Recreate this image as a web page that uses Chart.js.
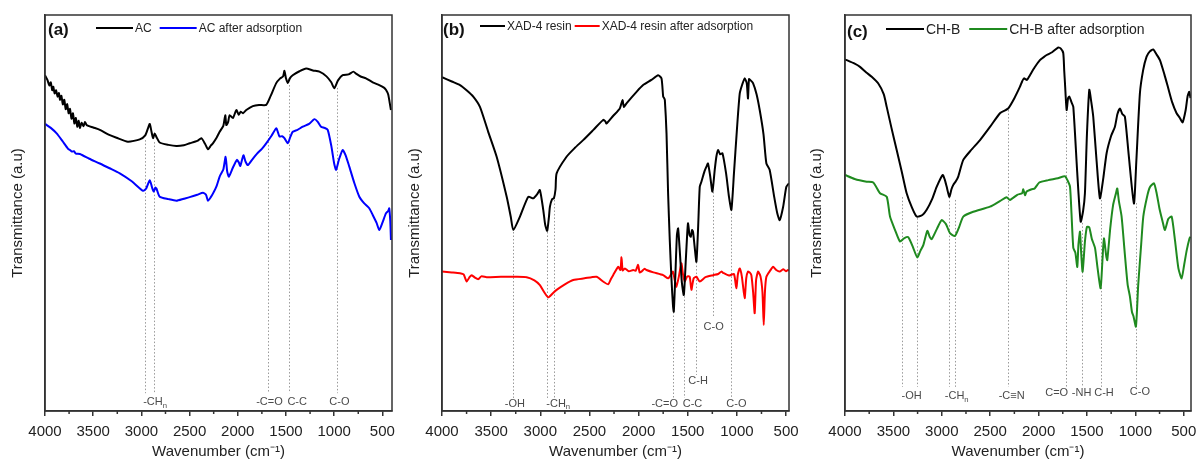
<!DOCTYPE html>
<html><head><meta charset="utf-8">
<script src="https://cdn.jsdelivr.net/npm/chart.js@4.4.1/dist/chart.umd.min.js"></script>
<style>
html,body{margin:0;padding:0;background:#fff;}
#wrap{position:relative;width:1199px;height:463px;overflow:hidden;}
canvas{position:absolute;top:0;}
</style></head><body>
<div id="wrap">
<canvas id="ca" width="400" height="463" style="left:0px"></canvas>
<canvas id="cb" width="400" height="463" style="left:400px"></canvas>
<canvas id="cc" width="399" height="463" style="left:800px"></canvas>
</div>
<script>
// ---------- axis ticks ----------
const tickValues = [4000,3500,3000,2500,2000,1500,1000,500];
const minorTickValues = [3750,3250,2750,2250,1750,1250,750];

// ---------- panel (a): AC ----------
const acWave = [4000,3975,3955,3940,3925,3914,3900,3885,3870,3855,3845,3830,3815,3800,3785,3770,3755,3741,3725,3710,3695,3680,3665,3650,3638,3620,3600,3585,3568,3500,3431,3340,3258,3140,3017,2960,2930,2913,2895,2879,2862,2844,2810,2720,2637,2560,2499,2420,2378,2340,2309,2280,2258,2220,2188,2150,2130,2119,2100,2085,2050,2015,1990,1970,1947,1912,1844,1780,1705,1660,1601,1560,1530,1516,1500,1481,1460,1430,1360,1291,1220,1153,1080,1030,998,960,912,850,800,773,720,670,600,532,480,463,440,425,411];
const acT    = [84.8,83.6,82.2,83.0,81.0,81.9,80.2,81.0,79.4,80.3,78.6,79.6,77.4,78.6,76.2,77.5,75.2,76.3,73.8,75.2,72.6,74.0,71.8,73.3,71.5,72.8,71.9,73.0,72.2,71.6,71.0,69.8,69.0,68.0,68.6,69.6,71.5,72.5,70.5,68.9,70.1,69.2,67.8,67.2,66.9,67.1,67.6,68.2,68.9,67.5,66.1,67.0,67.6,69.0,70.5,72.0,74.7,72.2,73.0,74.7,74.0,76.0,74.8,75.6,75.2,76.0,77.0,77.3,77.3,79.5,82.8,84.0,84.5,85.9,84.0,82.8,84.0,84.8,85.8,86.5,86.0,85.7,84.5,83.0,81.5,83.5,84.8,85.0,85.7,85.2,84.4,84.0,83.0,82.3,81.6,81.1,80.0,78.0,76.0];
const acAdsWave = [4000,3940,3879,3820,3760,3741,3720,3700,3680,3638,3540,3431,3330,3224,3100,2982,2950,2913,2890,2872,2855,2844,2810,2720,2637,2560,2499,2420,2361,2330,2309,2280,2258,2220,2188,2150,2126,2110,2092,2050,2009,1990,1974,1955,1940,1920,1895,1850,1800,1750,1705,1650,1601,1585,1567,1540,1516,1481,1455,1430,1380,1326,1260,1205,1170,1136,1100,1067,1030,1000,980,950,912,880,843,790,739,690,636,600,560,532,500,463,440,429,418,411];
const acAdsT    = [72.5,71.5,70.1,68.2,66.2,65.9,65.5,65.6,65.0,64.9,63.7,62.5,61.3,60.0,58.0,55.6,56.2,58.3,56.5,55.4,56.4,56.2,54.1,53.5,53.1,53.6,54.0,54.6,55.1,54.6,53.1,54.0,54.9,56.8,59.2,61.0,64.2,60.5,59.2,61.5,63.4,62.8,61.9,63.5,64.6,63.0,62.1,63.5,65.0,66.2,67.6,69.5,71.4,70.5,69.3,69.4,68.9,67.6,69.2,70.5,71.0,71.8,72.5,73.7,73.0,71.8,71.5,71.0,67.0,62.5,60.9,63.5,65.9,64.5,61.7,57.5,54.1,52.5,51.2,49.5,47.5,45.7,47.5,49.9,50.5,51.2,48.0,43.2];

// ---------- panel (b): XAD-4 resin ----------
const xadWave = [4000,3900,3817,3750,3682,3614,3530,3444,3342,3300,3275,3207,3122,3071,3030,3004,2970,2950,2930,2912,2902,2880,2862,2845,2834,2733,2650,2564,2460,2361,2340,2326,2260,2191,2164,2150,2123,2021,1954,1870,1801,1767,1750,1740,1733,1716,1700,1683,1665,1650,1642,1625,1610,1598,1580,1560,1540,1520,1505,1497,1482,1469,1456,1446,1430,1412,1395,1378,1361,1330,1310,1294,1270,1249,1225,1209,1192,1170,1147,1110,1080,1056,1030,1000,971,945,921,900,887,877,860,836,800,768,730,700,667,620,590,565,530,497,470];
const xadT    = [84.3,83.2,82.3,81.0,79.4,76.8,70.5,64.2,54.1,49.0,45.7,49.1,54.1,53.7,54.8,55.8,50.8,47.0,45.5,49.0,51.6,53.5,53.7,56.0,60.0,64.2,66.4,68.4,71.0,73.5,73.2,72.6,74.5,76.4,78.5,76.8,77.7,80.6,82.3,83.6,84.8,84.0,79.4,79.0,78.5,70.1,55.0,43.2,33.0,26.5,25.1,35.0,44.5,46.1,40.0,32.5,29.3,38.0,45.0,47.4,44.5,44.0,45.7,45.2,41.5,37.7,46.0,56.6,57.9,60.5,61.7,62.5,59.0,55.4,61.0,64.2,65.9,64.8,65.1,60.0,54.0,50.8,60.0,71.0,80.2,82.5,84.0,82.8,78.9,83.8,83.5,82.8,80.0,76.0,70.0,62.5,60.9,54.0,50.0,48.2,51.5,56.6,57.5];
const xadAdsWave = [4000,3900,3817,3780,3749,3720,3698,3660,3631,3600,3546,3400,3250,3139,3060,3004,2960,2919,2870,2834,2750,2665,2550,2428,2361,2310,2280,2259,2208,2185,2174,2162,2140,2100,2055,2030,2005,1990,1971,1940,1920,1850,1750,1699,1670,1651,1632,1616,1590,1565,1548,1531,1505,1480,1463,1440,1412,1378,1320,1243,1190,1158,1141,1080,1030,1006,990,971,950,921,905,887,870,853,835,819,805,785,760,740,727,715,700,660,632,600,565,530,500,480,470];
const xadAdsT    = [35.2,35.0,34.8,34.5,32.7,33.8,34.3,33.6,33.3,34.0,33.8,33.9,33.9,33.8,33.0,31.8,30.0,28.7,29.8,30.6,32.0,33.1,33.5,33.9,32.7,32.0,33.4,34.3,36.4,35.6,38.8,35.5,36.0,35.3,35.6,35.4,36.9,35.0,35.2,35.9,35.6,35.0,34.3,33.5,34.5,35.2,33.0,31.4,34.0,37.3,34.5,32.7,34.0,33.9,30.6,33.5,33.9,32.7,33.8,34.3,34.6,35.2,34.9,34.2,34.6,31.0,34.5,36.0,34.0,28.5,33.5,35.2,35.0,34.3,30.0,24.7,33.0,35.2,34.0,30.0,21.7,30.0,33.9,35.5,36.4,35.6,35.2,35.8,35.3,35.6,35.4];

// ---------- panel (c): CH-B ----------
const chbWave = [4000,3900,3845,3780,3724,3656,3600,3569,3520,3466,3414,3363,3310,3259,3200,3156,3100,3053,2991,2970,2949,2922,2900,2881,2855,2830,2778,2700,2605,2500,2399,2340,2313,2250,2192,2170,2151,2120,2089,2040,1986,1950,1916,1860,1796,1770,1745,1735,1727,1710,1695,1682,1660,1641,1600,1565,1540,1521,1500,1476,1455,1435,1400,1366,1330,1297,1250,1211,1185,1159,1135,1108,1070,1015,990,953,920,884,850,816,780,746,700,660,620,574,540,512,480,460,443,430];
const chbT    = [88.8,87.7,86.9,85.5,84.4,82.7,80.0,76.8,71.5,65.9,60.5,55.0,51.5,49.1,49.5,50.8,53.5,56.6,59.6,58.5,56.6,54.1,56.0,57.1,58.0,59.2,63.4,65.8,68.4,71.8,75.2,76.0,76.4,79.0,81.9,83.2,84.0,83.6,84.8,86.8,88.6,89.3,89.9,90.6,91.8,91.5,90.4,86.0,82.7,76.0,79.0,79.4,78.0,76.8,60.0,47.8,50.5,55.0,70.0,81.1,78.0,74.3,63.0,53.7,59.0,65.1,69.5,71.8,75.0,76.4,75.0,74.3,65.0,52.4,63.0,80.2,86.0,89.5,90.8,91.3,90.0,88.6,85.0,81.5,78.0,75.2,74.0,72.9,76.0,79.5,80.6,79.0];
const chbAdsWave = [4000,3900,3776,3708,3638,3569,3535,3483,3432,3390,3346,3300,3253,3220,3191,3149,3125,3104,3050,3001,2957,2915,2864,2820,2778,2675,2502,2400,2330,2296,2220,2170,2158,2140,2123,2071,2040,1993,1900,1800,1727,1700,1675,1660,1641,1620,1600,1588,1572,1560,1545,1520,1500,1476,1450,1417,1390,1359,1340,1325,1300,1290,1260,1230,1200,1187,1170,1142,1110,1080,1056,1035,1020,994,970,940,918,880,850,808,780,750,720,694,660,625,590,555,522,495,470,440,430];
const chbAdsT    = [59.6,58.6,57.9,57.7,55.0,54.1,49.1,45.7,42.8,43.6,43.9,41.5,38.8,40.5,41.9,45.5,44.0,43.4,46.0,48.2,47.2,44.9,44.2,46.5,49.1,50.3,51.6,53.0,54.0,53.3,54.6,55.0,56.0,54.5,55.4,56.0,56.2,57.7,58.3,58.8,59.3,58.2,56.6,50.0,41.2,40.0,36.4,42.0,45.3,40.0,35.2,43.0,46.5,46.4,43.5,41.2,36.0,31.0,38.0,43.6,39.0,38.1,46.0,52.0,55.0,56.2,53.0,49.1,40.0,32.0,28.9,25.0,24.0,21.3,32.0,42.0,49.1,54.0,56.5,57.5,55.0,51.0,48.0,45.7,48.5,49.1,43.0,36.0,33.5,37.0,40.5,43.6,44.0];

// ---------- band assignments ----------
const bandWaveA  = [2958,2865,1688,1464,974];
const bandTopA   = [68.4,67.9,76.0,82.3,81.6];
const bandTextA  = ['-CH_n','-C=O','C-C','C-O'];
const bandTextWA = [2858,1671,1384,946];

const bandWaveB  = [3275,2936,2859,1649,1540,1412,1243,1056];
const bandTopB   = [45.2,45.2,53.3,25.0,29.0,37.6,55.3,50.8];
const bandTextB  = ['-OH','-CH_n','-C=O','C-C','C-H','C-O','C-O'];
const bandTextWB = [3258,2818,1734,1452,1395,1236,1005];

const bandWaveC  = [3414,3253,2922,2867,2319,1717,1555,1356,994];
const bandTopC   = [54.0,48.7,54.0,53.3,76.0,75.5,47.5,53.3,52.5];
const bandTextC  = ['-OH','-CH_n','-C\u2261N','C=O','-NH','C-H','C-O'];
const bandTextWC = [3311,2846,2278,1813,1555,1324,953];

const FONT = "'Liberation Sans', Arial, Helvetica, sans-serif";
const pts = (w, t) => w.map((x, i) => ({x: x, y: t[i]}));

function drawLabel(ctx, text, cx, cy, size) {
  const parts = text.split('_');
  const main = parts[0], sub = parts[1] || '';
  ctx.font = size + 'px ' + FONT;
  const wm = ctx.measureText(main).width;
  ctx.font = (size * 0.7) + 'px ' + FONT;
  const ws = sub ? ctx.measureText(sub).width : 0;
  const sx = cx - (wm + ws) / 2;
  ctx.textBaseline = 'middle'; ctx.textAlign = 'left';
  ctx.font = size + 'px ' + FONT;
  ctx.fillText(main, sx, cy);
  if (sub) { ctx.font = (size * 0.7) + 'px ' + FONT; ctx.fillText(sub, sx + wm, cy + size * 0.35); }
}

const decor = {
  id: 'decor',
  beforeDatasetsDraw(chart, args, o) {
    const ctx = chart.ctx, x = chart.scales.x, y = chart.scales.y;
    ctx.save();
    ctx.strokeStyle = '#9a9a9a'; ctx.lineWidth = 1; ctx.setLineDash([1.5, 2]);
    o.lines.forEach(l => {
      const px = Math.round(x.getPixelForValue(l.w)) + 0.5;
      ctx.beginPath();
      ctx.moveTo(px, y.getPixelForValue(l.top));
      ctx.lineTo(px, y.getPixelForValue(l.bottom));
      ctx.stroke();
    });
    ctx.restore();
  },
  afterDraw(chart, args, o) {
    const ctx = chart.ctx, a = chart.chartArea, x = chart.scales.x, y = chart.scales.y;
    ctx.save();
    ctx.fillStyle = '#4a4a4a';
    o.labels.forEach(l => drawLabel(ctx, l.text, x.getPixelForValue(l.w), y.getPixelForValue(l.y), 11));
    ctx.strokeStyle = '#333'; ctx.lineWidth = 1.5; ctx.setLineDash([]);
    ctx.strokeRect(a.left, a.top, a.right - a.left, a.bottom - a.top);
    minorTickValues.forEach(v => {
      const px = x.getPixelForValue(v);
      ctx.beginPath(); ctx.moveTo(px, a.bottom); ctx.lineTo(px, a.bottom + 3); ctx.stroke();
    });
    const L = o.legend;
    ctx.fillStyle = '#111';
    ctx.font = 'bold ' + L.tagSize + 'px ' + FONT;
    ctx.textBaseline = 'middle'; ctx.textAlign = 'left';
    ctx.fillText(L.tag, a.left + L.tagX, a.top + L.tagY);
    ctx.font = L.size + 'px ' + FONT;
    let cx = a.left + L.x;
    const ly = a.top + L.y;
    chart.data.datasets.forEach(ds => {
      ctx.strokeStyle = ds.borderColor; ctx.lineWidth = 2;
      ctx.beginPath(); ctx.moveTo(cx, ly); ctx.lineTo(cx + L.lineLen, ly); ctx.stroke();
      cx += L.lineLen + L.gap;
      ctx.fillStyle = '#222';
      ctx.fillText(ds.label, cx, ly + 1);
      cx += ctx.measureText(ds.label).width + L.itemGap;
    });
    ctx.restore();
  }
};

function makePanel(id, p) {
  const lines = p.bandWave.map((w, i) => ({w: w, top: p.bandTop[i], bottom: p.lineBottom[i] !== undefined ? p.lineBottom[i] : p.lineBottomDefault}));
  const labels = p.bandText.map((t, i) => ({text: t, w: p.bandTextW[i], y: p.labelY[i] !== undefined ? p.labelY[i] : p.labelYDefault}));
  return new Chart(document.getElementById(id), {
    type: 'line',
    data: {
      datasets: p.series.map(s => ({
        label: s.label, data: pts(s.w, s.t), borderColor: s.color, backgroundColor: s.color,
        borderWidth: 2, pointRadius: 0, tension: 0.2, fill: false
      }))
    },
    options: {
      responsive: false, animation: false, devicePixelRatio: 1,
      layout: {padding: p.padding},
      plugins: {legend: {display: false}, tooltip: {enabled: false},
        decor: {lines: lines, labels: labels, legend: p.legend}},
      scales: {
        x: {
          type: 'linear', reverse: true, min: p.xMin, max: 4000,
          afterBuildTicks: s => { s.ticks = tickValues.map(v => ({value: v})); },
          afterFit: s => { s.paddingLeft = 0; s.paddingRight = 0; },
          ticks: {font: {family: FONT, size: 15}, color: '#222', padding: 7, maxRotation: 0, autoSkip: false,
                  callback: v => String(v)},
          grid: {display: true, drawOnChartArea: false, drawTicks: true, tickLength: 5, color: '#333', lineWidth: 1.5},
          border: {display: true, color: '#333', width: 1.5},
          title: {display: true, text: 'Wavenumber (cm\u207B\u00B9)', font: {family: FONT, size: 15}, color: '#222', padding: {top: -5, bottom: 0}}
        },
        y: {
          min: 0, max: 100,
          ticks: {display: false},
          grid: {display: false, drawTicks: false},
          border: {display: true, color: '#333', width: 1.5},
          title: {display: true, text: 'Transmittance (a.u)', font: {family: FONT, size: 15}, color: '#222', padding: p.yTitlePad}
        }
      }
    },
    plugins: [decor]
  });
}

makePanel('ca', {
  xMin: 400,
  padding: {left: 0, right: 8, top: 15, bottom: 2},
  yTitlePad: {top: 9, bottom: 18},
  series: [
    {label: 'AC', w: acWave, t: acT, color: '#000000'},
    {label: 'AC after adsorption', w: acAdsWave, t: acAdsT, color: '#0000ff'}
  ],
  bandWave: bandWaveA, bandTop: bandTopA, lineBottom: [], lineBottomDefault: 4.5,
  bandText: bandTextA, bandTextW: bandTextWA, labelY: [], labelYDefault: 2.3,
  legend: {tag: '(a)', tagSize: 17, tagX: 3, tagY: 15, x: 51, y: 13, lineLen: 37, gap: 2, itemGap: 8, size: 12}
});

makePanel('cb', {
  xMin: 470,
  padding: {left: 0, right: 11, top: 15, bottom: 2},
  yTitlePad: {top: 6, bottom: 18},
  series: [
    {label: 'XAD-4 resin', w: xadWave, t: xadT, color: '#000000'},
    {label: 'XAD-4 resin after adsorption', w: xadAdsWave, t: xadAdsT, color: '#ff0000'}
  ],
  bandWave: bandWaveB, bandTop: bandTopB, lineBottom: [3.3,3.3,3.3,3.3,3.3,9.1,23.5,3.3], lineBottomDefault: 3.3,
  bandText: bandTextB, bandTextW: bandTextWB, labelY: [1.9,1.9,1.9,1.9,7.6,21.3,1.9], labelYDefault: 1.9,
  legend: {tag: '(b)', tagSize: 17, tagX: 1, tagY: 15, x: 38, y: 11, lineLen: 25, gap: 2, itemGap: 3, size: 12}
});

makePanel('cc', {
  xMin: 425,
  padding: {left: 0, right: 8, top: 15, bottom: 2},
  yTitlePad: {top: 8, bottom: 19},
  series: [
    {label: 'CH-B', w: chbWave, t: chbT, color: '#000000'},
    {label: 'CH-B after adsorption', w: chbAdsWave, t: chbAdsT, color: '#1f8a1f'}
  ],
  bandWave: bandWaveC, bandTop: bandTopC, lineBottom: [], lineBottomDefault: 6.1,
  bandText: bandTextC, bandTextW: bandTextWC, labelY: [3.9,3.9,3.9,4.6,4.6,4.6,4.9], labelYDefault: 3.9,
  legend: {tag: '(c)', tagSize: 17, tagX: 2, tagY: 17, x: 41, y: 14, lineLen: 38, gap: 2, itemGap: 9, size: 14}
});
</script>
</body></html>
